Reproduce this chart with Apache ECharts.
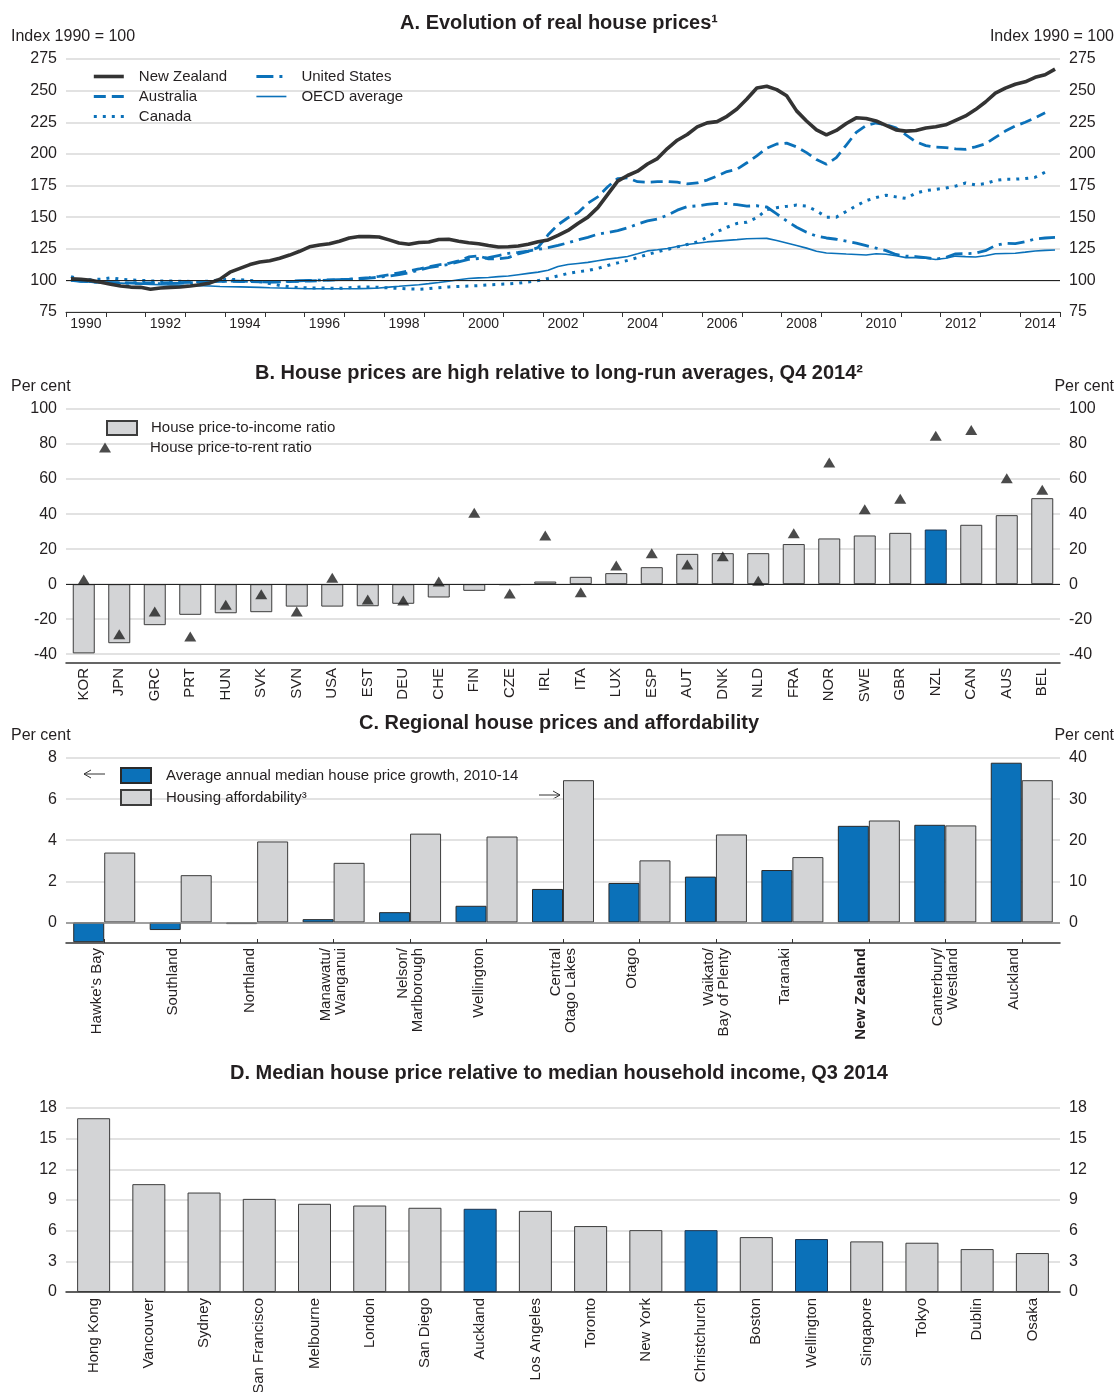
<!DOCTYPE html>
<html><head><meta charset="utf-8">
<script src="https://cdn.jsdelivr.net/npm/echarts@6/dist/echarts.min.js"></script>
<style>html,body{margin:0;padding:0;background:#fff}#c{width:1118px;height:1392px}</style>
</head><body><div id="c"></div>
<script>
// ---------- Panel A: real house prices, index 1990 = 100, quarterly from 1990Q1 ----------
const startYear = 1990;
const labelYears = [1990,1992,1994,1996,1998,2000,2002,2004,2006,2008,2010,2012,2014];
const newZealand = [
101.3,100.8,100,98.5, 97,95.5,94.7,94.5, 93,94,94.5,94.8, 95.5,96.5,98,101,
106.5,109.5,112.5,114.5, 115.5,117.5,120,123, 126.5,128,129,131, 133.5,134.7,134.6,134.3,
132,129.5,128.5,130, 130.3,132.3,132.5,131, 129.7,129,127.5,126.4, 126.6,127.2,128.5,130.5,
132,135.5,139.5,145, 150,157.5,168,178.5, 182.9,186.3,192,196.3, 204.2,210.8,215.3,221.3,
224.5,225.5,229.7,235.5, 243.4,252.1,253.4,250.8, 246,234,226,219, 215,218.5,224,228.5,
228,226,222.5,219, 218,218.5,220.5,221.5, 223,226.5,230,235, 241,248,252,255,
257,260.5,262.5,267];
const australia = [
100.5,99.5,99,98.5, 98.3,98,98,98, 98,98,98.2,98.3, 98.5,98.7,99,99.2,
99.2,99,99,98.8, 98.8,98.8,99,99.2, 99.5,99.8,100.2,100.6, 101,101.6,102.2,103.2,
104.5,106,107.5,109, 110.8,112.3,113.5,115.5, 118.5,119.3,117,117, 118,121,123,126,
136,144,149.5,153.5, 161,166,174,180.5, 181,178,177.6,178, 178.2,177.6,176.3,177,
179.3,182.5,186,187.8, 193,198.5,204.5,207.8, 208.5,205.5,201,195.5, 191.8,197,207,217,
222.5,224.4,223,220.5, 215,209.5,206.5,205.3, 205,204,203.6,205.5, 208,213,218,222,
225,228.5,232.5];
const canada = [
103,100.5,100.5,101, 102,101,100.3,100, 99.6,99.5,99.5,99.3, 99.2,99,99.5,100.3,
100.8,100.5,100,99, 97.5,96,95,94.3, 94,94,93.8,93.7, 94.2,94.7,94.7,94.5,
94,93.7,93.2,93, 93.5,94.2,94.8,95.2, 95.5,95.8,96.4,96.8, 97.2,97.8,98.8,99.8,
101.5,103.5,105.5,106.8, 107.8,109.5,111.8,113.8, 115.8,118,120.5,122.5, 124.5,126.5,128.4,130.3,
134,138.5,142,145, 146,149.5,156,157.5, 158.5,159.5,158.8,155, 150,150,154.5,159,
163,165.5,167.3,166, 164.8,169,171,172, 173,174.5,177,175.5, 176.5,179,180,180,
180.5,181.5,185.5];
const unitedStates = [
100,99.3,98.8,98.4, 98.2,97.9,97.7,97.5, 97.4,97.5,97.7,97.9, 98.2,98.5,98.8,99.2,
99.5,99.4,99.2,99, 98.7,98.9,99.3,99.7, 100,100.2,100.4,100.6, 100.8,101.2,101.8,102.5,
103.4,104.6,106,108, 110,111.3,112.6,114.6, 116.6,117.3,117.9,119.6, 121.3,122.2,123.2,124.5,
125.8,127.6,129.7,132, 134,136.5,137.8,139.3, 141.5,144.5,147,148.5, 151.5,155.5,158.3,158.9,
160,160.8,160.7,159.8, 158.7,159,158,152.5, 147,142,138,135, 133.5,132.5,131,129.5,
127.5,125.5,123.5,120.5, 119.2,118.8,118,116.8, 118,121,121.1,121.5, 123.5,127.6,129.3,129,
130.5,132.8,133.5,134];
const oecdAverage = [
100,99.2,98.6,98.3, 98.1,97.8,97.5,97.2, 96.8,96.6,96.4,96.2, 96,95.8,95.5,95.2,
95,94.9,94.7,94.5, 94.2,94,93.8,93.6, 93.4,93.4,93.4,93.4, 93.4,93.5,93.7,94,
94.7,95.3,96,96.6, 97.4,98.3,99.3,100.5, 101.5,102,102.3,103, 103.4,104.5,105.5,106.5,
108,111,112.6,113.4, 114.2,115.5,116.8,117.8, 118.9,121,123.3,124.2, 125.2,126.8,128.4,129.4,
130.4,131,131.6,132.2, 132.9,133.1,133.2,131.5, 129.5,127.5,125.5,123, 121.6,121.2,120.8,120.5,
120,121,120.6,119.5, 118,118,117.5,116.5, 117.5,119.2,118.8,118.5, 119.5,121,121.3,121.5,
122.3,123.2,123.7,124];

// ---------- Panel B: deviation from long-run averages, Q4 2014 (per cent) ----------
const countriesB = ['KOR','JPN','GRC','PRT','HUN','SVK','SVN','USA','EST','DEU','CHE','FIN','CZE','IRL',
  'ITA','LUX','ESP','AUT','DNK','NLD','FRA','NOR','SWE','GBR','NZL','CAN','AUS','BEL'];
const priceToIncome = [-39.5,-33.7,-23.4,-17.5,-16.6,-16,-12.8,-12.8,-12.6,-11.2,-7.6,-3.8,-0.5,1.5,
  4.2,6.3,9.7,17.3,17.7,17.7,22.9,26.1,27.8,29.3,31.2,33.9,39.4,49.1];
const priceToRent = [2.7,-28.6,-15.6,-29.9,-11.8,-5.7,-15.6,3.6,-8.8,-9.3,1.5,40.8,-5.3,27.8,
  -4.6,10.7,17.7,11.2,16,1.9,29,69.5,42.7,48.8,84.8,88,60.4,53.9];
const highlightB = ['NZL'];

// ---------- Panel C: regional house prices and affordability ----------
const regionsC = ["Hawke's Bay","Southland","Northland","Manawatu/\nWanganui","Nelson/\nMarlborough","Wellington",
  "Central\nOtago Lakes","Otago","Waikato/\nBay of Plenty","Taranaki","New Zealand","Canterbury/\nWestland","Auckland"];
const priceGrowthC = [-0.96,-0.37,-0.08,0.16,0.5,0.81,1.63,1.92,2.23,2.55,4.7,4.75,7.77];
const affordabilityC = [17.0,11.5,19.7,14.5,21.6,20.9,34.6,15.1,21.4,15.9,24.8,23.6,34.6];
const boldC = ['New Zealand'];

// ---------- Panel D: median house price / median household income, Q3 2014 ----------
const citiesD = ['Hong Kong','Vancouver','Sydney','San Francisco','Melbourne','London','San Diego','Auckland',
  'Los Angeles','Toronto','New York','Christchurch','Boston','Wellington','Singapore','Tokyo','Dublin','Osaka'];
const ratioD = [17.0,10.55,9.73,9.11,8.63,8.46,8.24,8.14,7.94,6.45,6.05,6.05,5.37,5.18,4.95,4.82,4.2,3.81];
const highlightD = ['Auckland','Christchurch','Wellington'];

// ---------- styling ----------
const FONT = '"Liberation Sans", Arial, Helvetica, sans-serif';
const TXT = '#231f20';
const BLUE = '#0b71b9';
const DARK = '#333333';
const GREY = '#d3d4d6';
const EDGE = '#3c3c3c';
const GRIDC = '#d9d9d9';
const LEFT = 66, RIGHT = 58;
const TICKFS = 16;

const styleA = {
  'New Zealand':   {color: DARK, width: 3.6, type: 'solid'},
  'Australia':     {color: BLUE, width: 2.8, type: [12, 6]},
  'Canada':        {color: BLUE, width: 3, type: [3, 6]},
  'United States': {color: BLUE, width: 2.8, type: [17, 6, 3, 6]},
  'OECD average':  {color: BLUE, width: 1.6, type: 'solid'}
};

const qx = (i) => startYear + (i + 0.5) / 4;
const toXY = (arr) => arr.map((v, i) => [qx(i), v]);

function yAxis(grid, pos, min, max, opt) {
  const o = {
    gridIndex: grid, type: 'value', position: pos, min: min, max: max,
    axisLine: {show: false}, axisTick: {show: false},
    splitLine: {show: pos === 'left', lineStyle: {color: GRIDC, width: 1.5}},
    axisLabel: {fontSize: TICKFS, color: TXT, fontFamily: FONT, margin: 9}
  };
  return Object.assign(o, opt || {});
}
function customY(grid, pos, min, max, vals) {
  return yAxis(grid, pos, min, max, {
    axisTick: {show: false, customValues: vals},
    axisLabel: {customValues: vals, fontSize: TICKFS, color: TXT, fontFamily: FONT, margin: 9}
  });
}
function catAxis(grid, data, extra) {
  return Object.assign({
    gridIndex: grid, type: 'category', data: data,
    axisLine: {onZero: false, lineStyle: {color: '#333', width: 1.5}},
    axisTick: {show: false},
    axisLabel: {rotate: 90, interval: 0, fontSize: 15, color: TXT, fontFamily: FONT, margin: 5}
  }, extra || {});
}
const legendText = (pad, lh) => ({fontSize: 15, color: TXT, fontFamily: FONT, lineHeight: lh, padding: [0, 0, 0, pad]});
const legendLines = (names) => names.map(n => ({name: n, lineStyle: Object.assign({}, styleA[n]), itemStyle: {opacity: 0}}));
const lineSeries = (name, arr, extra) => Object.assign({
  type: 'line', name: name, xAxisIndex: 0, yAxisIndex: 0, showSymbol: false, symbol: 'none',
  itemStyle: {opacity: 0}, lineStyle: Object.assign({}, styleA[name]), data: toXY(arr)
}, extra || {});

const gridBase = {left: LEFT, right: RIGHT, outerBoundsMode: 'none', containLabel: false};

const option = {
  animation: false,
  backgroundColor: '#fff',
  textStyle: {fontFamily: FONT},
  title: [
    {text: 'A. Evolution of real house prices¹', top: 13},
    {text: 'B. House prices are high relative to long-run averages, Q4 2014²', top: 363},
    {text: 'C. Regional house prices and affordability', top: 713},
    {text: 'D. Median house price relative to median household income, Q3 2014', top: 1063}
  ].map(t => Object.assign({left: 'center', padding: 0,
    textStyle: {fontSize: 20, fontWeight: 'bold', color: TXT, fontFamily: FONT}}, t)),
  grid: [
    Object.assign({top: 59, height: 253}, gridBase),
    Object.assign({top: 409, height: 254}, gridBase),
    Object.assign({top: 758, height: 185}, gridBase),
    Object.assign({top: 1108, height: 184}, gridBase)
  ],
  legend: [
    {data: legendLines(['New Zealand','Australia','Canada']), left: 92, top: 69, orient: 'vertical',
      itemWidth: 30, itemHeight: 14, itemGap: 5, padding: 0, selectedMode: false, textStyle: legendText(10, 15)},
    {data: legendLines(['United States','OECD average']), left: 255, top: 69, orient: 'vertical',
      itemWidth: 30, itemHeight: 14, itemGap: 5, padding: 0, selectedMode: false, textStyle: legendText(10, 15)},
    {data: ['House price-to-income ratio'], left: 106, top: 420, itemWidth: 30, itemHeight: 14, icon: 'rect',
      padding: 0, selectedMode: false, textStyle: legendText(9, 14)},
    {data: ['House price-to-rent ratio'], left: 99, top: 440, itemWidth: 12, itemHeight: 10,
      padding: 0, selectedMode: false, textStyle: legendText(34, 14)},
    {data: ['Average annual median house price growth, 2010-14','Housing affordability³'], left: 120, top: 767,
      orient: 'vertical', itemWidth: 30, itemHeight: 15, itemGap: 5, icon: 'rect',
      padding: 0, selectedMode: false, textStyle: legendText(10, 15)}
  ],
  xAxis: [
    {gridIndex: 0, type: 'value', min: 1990, max: 2015, interval: 1,
      axisLine: {onZero: false, lineStyle: {color: '#333', width: 1}},
      axisTick: {show: true, length: 5, lineStyle: {color: '#333'}},
      splitLine: {show: false},
      axisLabel: {customValues: labelYears.map(y => y + 0.5), formatter: v => String(Math.floor(v)),
        fontSize: 14, color: TXT, fontFamily: FONT, margin: 5}},
    catAxis(1, countriesB),
    catAxis(2, regionsC, {
      axisTick: {show: true, alignWithLabel: true, inside: true, length: 4, lineStyle: {color: '#333'}},
      axisLabel: {rotate: 90, interval: 0, fontSize: 15, color: TXT, fontFamily: FONT, margin: 5,
        formatter: (v) => {
          const txt = v.indexOf('\n') < 0 ? v + '\n ' : v;
          return boldC.indexOf(v) >= 0 ? '{b|' + v + '}\n ' : txt;
        },
        rich: {b: {fontWeight: 'bold', fontSize: 15, color: TXT, fontFamily: FONT}}}
    }),
    catAxis(3, citiesD, {axisLabel: {rotate: 90, interval: 0, fontSize: 15, color: TXT, fontFamily: FONT, margin: 6}})
  ],
  yAxis: [
    yAxis(0, 'left', 75, 275, {interval: 25}),
    yAxis(0, 'right', 75, 275, {interval: 25}),
    customY(1, 'left', -45, 100, [-40,-20,0,20,40,60,80,100]),
    customY(1, 'right', -45, 100, [-40,-20,0,20,40,60,80,100]),
    customY(2, 'left', -1, 8, [0,2,4,6,8]),
    customY(2, 'right', -5, 40, [0,10,20,30,40]),
    yAxis(3, 'left', 0, 18, {interval: 3}),
    yAxis(3, 'right', 0, 18, {interval: 3})
  ],
  graphic: [
    {type: 'text', left: 11, top: 29, style: {text: 'Index 1990 = 100', fontSize: 16, fill: TXT, fontFamily: FONT}},
    {type: 'text', right: 4, top: 29, style: {text: 'Index 1990 = 100', fontSize: 16, fill: TXT, fontFamily: FONT}},
    {type: 'text', left: 11, top: 379, style: {text: 'Per cent', fontSize: 16, fill: TXT, fontFamily: FONT}},
    {type: 'text', right: 4, top: 379, style: {text: 'Per cent', fontSize: 16, fill: TXT, fontFamily: FONT}},
    {type: 'text', left: 11, top: 728, style: {text: 'Per cent', fontSize: 16, fill: TXT, fontFamily: FONT}},
    {type: 'text', right: 4, top: 728, style: {text: 'Per cent', fontSize: 16, fill: TXT, fontFamily: FONT}},
    {type: 'polyline', shape: {points: [[84,774],[105,774]]}, style: {stroke: '#333', lineWidth: 1, fill: null}},
    {type: 'polyline', shape: {points: [[91,770],[84,774],[91,778]]}, style: {stroke: '#333', lineWidth: 1, fill: null}},
    {type: 'polyline', shape: {points: [[539,795],[560,795]]}, style: {stroke: '#333', lineWidth: 1, fill: null}},
    {type: 'polyline', shape: {points: [[553,791],[560,795],[553,799]]}, style: {stroke: '#333', lineWidth: 1, fill: null}}
  ],
  series: [
    lineSeries('OECD average', oecdAverage, {
      markLine: {silent: true, symbol: 'none', label: {show: false},
        lineStyle: {color: '#222', width: 1, type: 'solid'}, data: [{yAxis: 100}]}}),
    lineSeries('United States', unitedStates),
    lineSeries('Canada', canada),
    lineSeries('Australia', australia),
    lineSeries('New Zealand', newZealand),

    {type: 'bar', name: 'House price-to-income ratio', xAxisIndex: 1, yAxisIndex: 2, barWidth: 22,
      itemStyle: {color: GREY, borderColor: EDGE, borderWidth: 1},
      data: priceToIncome.map((v, i) => highlightB.indexOf(countriesB[i]) >= 0
        ? {value: v, itemStyle: {color: BLUE, borderColor: '#1f3550'}} : v),
      markLine: {silent: true, symbol: 'none', label: {show: false},
        lineStyle: {color: '#222', width: 1.2, type: 'solid'}, data: [{yAxis: 0}]}},
    {type: 'scatter', name: 'House price-to-rent ratio', xAxisIndex: 1, yAxisIndex: 2,
      symbol: 'triangle', symbolSize: [12, 10], itemStyle: {color: '#1e1e1e'}, z: 5,
      data: priceToRent},

    {type: 'bar', name: 'Average annual median house price growth, 2010-14', xAxisIndex: 2, yAxisIndex: 4,
      barWidth: 31, barGap: '0%', itemStyle: {color: BLUE, borderColor: '#2a2a2a', borderWidth: 1},
      data: priceGrowthC,
      markLine: {silent: true, symbol: 'none', label: {show: false},
        lineStyle: {color: '#8a8a8a', width: 1.5, type: 'solid'}, data: [{yAxis: 0}]}},
    {type: 'bar', name: 'Housing affordability³', xAxisIndex: 2, yAxisIndex: 5,
      barWidth: 31, barGap: '0%', itemStyle: {color: GREY, borderColor: EDGE, borderWidth: 1},
      data: affordabilityC},

    {type: 'bar', name: 'Median multiple', xAxisIndex: 3, yAxisIndex: 6, barWidth: 33,
      itemStyle: {color: GREY, borderColor: EDGE, borderWidth: 1},
      data: ratioD.map((v, i) => highlightD.indexOf(citiesD[i]) >= 0
        ? {value: v, itemStyle: {color: BLUE, borderColor: '#1f3550'}} : v)}
  ]
};

const chart = echarts.init(document.getElementById('c'), null, {renderer: 'canvas'});
chart.setOption(option);
</script></body></html>
